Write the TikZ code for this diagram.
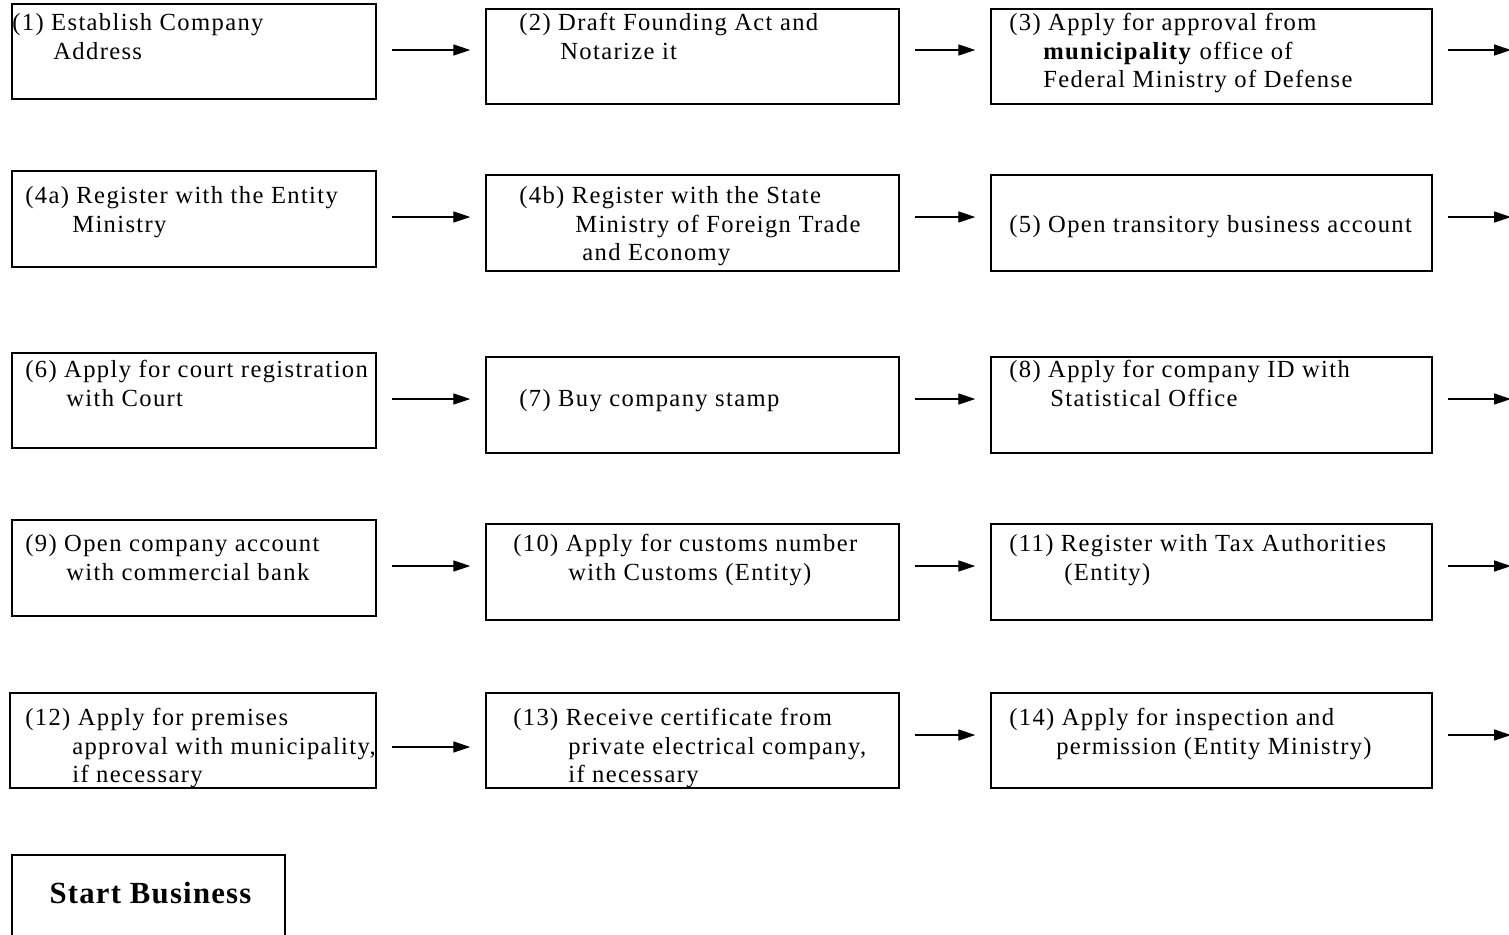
\documentclass[tikz,border=0pt]{standalone}
\usepackage{fontspec}
\setmainfont{Liberation Serif}[LetterSpace=5.5]
\usepackage{tikz}
\usetikzlibrary{arrows.meta,fit}
\definecolor{ink}{HTML}{000000}
\tikzset{
  box/.style={draw=ink, line width=0.8pt, inner sep=0pt},
  txt/.style={anchor=north west, inner sep=0pt, align=left, text=ink, font=\fontsize{14}{16.4}\selectfont},
  big/.style={anchor=base, inner sep=0pt, text=ink, font=\fontsize{17.5}{19}\selectfont\bfseries\addfontfeatures{LetterSpace=4}},
  arr/.style={draw=ink, line width=0.75pt, shorten <=0.3cm, shorten >=0.3cm, -{Triangle[length=0.34cm,width=0.22cm]}},
}

\begin{document}
\begin{tikzpicture}[x=0.02cm,y=-0.02cm]
  \useasboundingbox (0,0) rectangle (1509,934);

  % boxes, row by row
  \node[box, fit={(12,4) (376,99)}] (b1) {};
  \node[box, fit={(486,9) (899,104)}] (b2) {};
  \node[box, fit={(991,9) (1432,104)}] (b3) {};
  \node[box, fit={(12,171) (376,267)}] (b4a) {};
  \node[box, fit={(486,175) (899,271)}] (b4b) {};
  \node[box, fit={(991,175) (1432,271)}] (b5) {};
  \node[box, fit={(12,353) (376,448)}] (b6) {};
  \node[box, fit={(486,357) (899,453)}] (b7) {};
  \node[box, fit={(991,357) (1432,453)}] (b8) {};
  \node[box, fit={(12,520) (376,616)}] (b9) {};
  \node[box, fit={(486,524) (899,620)}] (b10) {};
  \node[box, fit={(991,524) (1432,620)}] (b11) {};
  \node[box, fit={(10,693) (376,788)}] (b12) {};
  \node[box, fit={(486,693) (899,788)}] (b13) {};
  \node[box, fit={(991,693) (1432,788)}] (b14) {};
  \node[box, fit={(12,855) (285,950)}] (bs) {};

  % texts
  \node[txt] (t1) at (12,9.7) {\strut(1) Establish Company\\\hspace*{0.82cm}Address};
  \node[txt] (t2) at (519,9.7) {\strut(2) Draft Founding Act and\\\hspace*{0.82cm}Notarize it};
  \node[txt] (t3) at (1009,9.7) {\strut(3) Apply for approval from\\\hspace*{0.68cm}\textbf{municipality} office of\\\hspace*{0.68cm}Federal Ministry of Defense};
  \node[txt] (t4a) at (25,182.7) {\strut(4a) Register with the Entity\\\hspace*{0.94cm}Ministry};
  \node[txt] (t4b) at (519,182.7) {\strut(4b) Register with the State\\\hspace*{1.12cm}Ministry of Foreign Trade\\\hspace*{1.26cm}and Economy};
  \node[txt] (t5) at (1009,211.7) {\strut(5) Open transitory business account};
  \node[txt] (t6) at (25,356.7) {\strut(6) Apply for court registration\\\hspace*{0.82cm}with Court};
  \node[txt] (t7) at (519,385.7) {\strut(7) Buy company stamp};
  \node[txt] (t8) at (1009,356.7) {\strut(8) Apply for company ID with\\\hspace*{0.82cm}Statistical Office};
  \node[txt] (t9) at (25,530.7) {\strut(9) Open company account\\\hspace*{0.82cm}with commercial bank};
  \node[txt] (t10) at (513,530.7) {\strut(10) Apply for customs number\\\hspace*{1.1cm}with Customs (Entity)};
  \node[txt] (t11) at (1009,530.7) {\strut(11) Register with Tax Authorities\\\hspace*{1.1cm}(Entity)};
  \node[txt] (t12) at (25,704.7) {\strut(12) Apply for premises\\\hspace*{0.94cm}approval with municipality,\\\hspace*{0.94cm}if necessary};
  \node[txt] (t13) at (513,704.7) {\strut(13) Receive certificate from\\\hspace*{1.1cm}private electrical company,\\\hspace*{1.1cm}if necessary};
  \node[txt] (t14) at (1009,704.7) {\strut(14) Apply for inspection and\\\hspace*{0.94cm}permission (Entity Ministry)};
  \node[big] (ts) at (150.5,903) {Start Business};

  % arrows between boxes
  \foreach \a/\b/\y in {b1/b2/50, b2/b3/50, b4a/b4b/217, b4b/b5/217, b6/b7/399, b7/b8/399,
                        b9/b10/566, b10/b11/566, b12/b13/747, b13/b14/735}
    \draw[arr] (\a.east |- 0,\y) -- (\b.west |- 0,\y);

  % arrows leaving the right edge
  \coordinate (e1) at (1511,50);
  \coordinate (e2) at (1511,217);
  \coordinate (e3) at (1511,399);
  \coordinate (e4) at (1511,566);
  \coordinate (e5) at (1511,735);
  \foreach \a/\e in {b3/e1, b5/e2, b8/e3, b11/e4, b14/e5}
    \draw[arr, shorten >=0pt] (\a.east |- \e) -- (\e);
\end{tikzpicture}
\end{document}
